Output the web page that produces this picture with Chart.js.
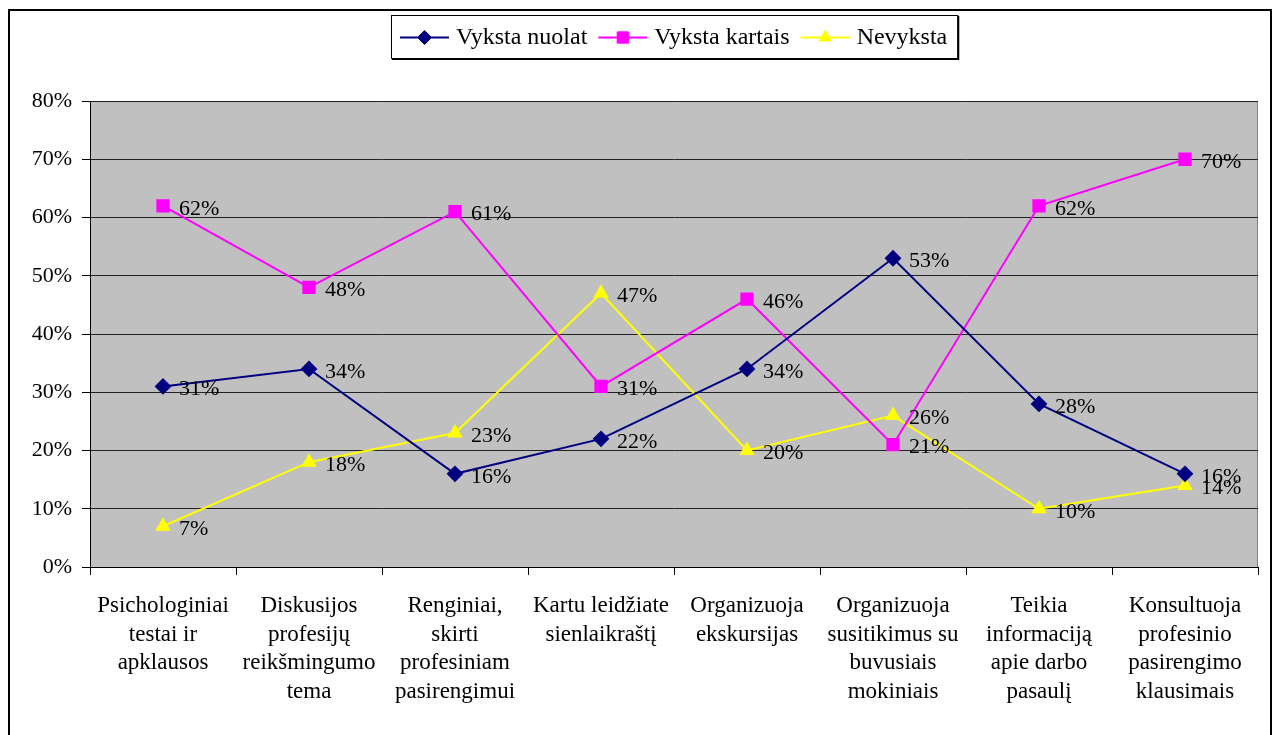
<!DOCTYPE html>
<html>
<head>
<meta charset="utf-8">
<script src="https://cdn.jsdelivr.net/npm/chart.js@4/dist/chart.umd.min.js"></script>
<style>
    html, body { margin: 0; padding: 0; background: #fff; overflow: hidden; }
    #wrap { position: relative; width: 1279px; height: 735px; }
    #frame { position: absolute; left: 8px; top: 9px; width: 1264px; height: 740px; border: 2px solid #000; box-sizing: border-box; }
    #chart { position: absolute; left: 0; top: 0; }
</style>
</head>
<body>
<div id="wrap">
    <div id="frame"></div>
    <canvas id="chart" width="1279" height="735"></canvas>
</div>
<script>
var categories = [
    ['Psichologiniai', 'testai ir', 'apklausos'],
    ['Diskusijos', 'profesijų', 'reikšmingumo', 'tema'],
    ['Renginiai,', 'skirti', 'profesiniam', 'pasirengimui'],
    ['Kartu leidžiate', 'sienlaikraštį'],
    ['Organizuoja', 'ekskursijas'],
    ['Organizuoja', 'susitikimus su', 'buvusiais', 'mokiniais'],
    ['Teikia', 'informaciją', 'apie darbo', 'pasaulį'],
    ['Konsultuoja', 'profesinio', 'pasirengimo', 'klausimais']
];
var vykstaNuolat = [31, 34, 16, 22, 34, 53, 28, 16];
var vykstaKartais = [62, 48, 61, 31, 46, 21, 62, 70];
var nevyksta = [7, 18, 23, 47, 20, 26, 10, 14];
var seriesNames = ['Vyksta nuolat', 'Vyksta kartais', 'Nevyksta'];

var serif = "'Liberation Serif', 'Times New Roman', serif";

// gray plot background + grey top/right border
var plotBackground = {
    id: 'plotBackground',
    beforeDraw: function (chart) {
        var a = chart.chartArea;
        var ctx = chart.ctx;
        ctx.save();
        ctx.fillStyle = '#C0C0C0';
        ctx.fillRect(a.left, a.top, a.right - a.left, a.bottom - a.top);
        ctx.strokeStyle = '#808080';
        ctx.lineWidth = 1;
        ctx.beginPath();
        ctx.moveTo(a.left, a.top + 0.5);
        ctx.lineTo(a.right - 0.5, a.top + 0.5);
        ctx.lineTo(a.right - 0.5, a.bottom);
        ctx.stroke();
        ctx.restore();
    }
};

// value labels to the right of each point
var valueLabels = {
    id: 'valueLabels',
    afterDatasetsDraw: function (chart) {
        var ctx = chart.ctx;
        ctx.save();
        ctx.font = '22px ' + serif;
        ctx.fillStyle = '#000';
        ctx.textAlign = 'left';
        ctx.textBaseline = 'middle';
        chart.data.datasets.forEach(function (ds, i) {
            chart.getDatasetMeta(i).data.forEach(function (pt, j) {
                ctx.fillText(ds.data[j] + '%', pt.x + 16, pt.y + 3);
            });
        });
        ctx.restore();
    }
};

// Excel style legend box: line with marker, then label
var boxLegend = {
    id: 'boxLegend',
    afterDraw: function (chart) {
        var ctx = chart.ctx;
        var a = chart.chartArea;
        ctx.save();
        ctx.font = '24px ' + serif;
        var lineLen = 49, gapAfterLine = 7, gapItems = 11, padL = 9, padR = 10;
        var widths = chart.data.datasets.map(function (ds) { return ctx.measureText(ds.label).width; });
        var total = padL + padR;
        widths.forEach(function (w, i) {
            total += lineLen + gapAfterLine + w + (i < widths.length - 1 ? gapItems : 0);
        });
        var cx = (a.left + a.right) / 2;
        var left = Math.round(cx - total / 2), top = 15, h = 43;
        ctx.fillStyle = '#000';
        ctx.fillRect(left + 1, top + 1, total + 1, h + 1);
        ctx.fillStyle = '#fff';
        ctx.fillRect(left, top, total, h);
        ctx.strokeStyle = '#000';
        ctx.lineWidth = 1;
        ctx.strokeRect(left + 0.5, top + 0.5, total, h);
        var x = left + padL, y = top + h / 2 + 1;
        chart.data.datasets.forEach(function (ds, i) {
            ctx.strokeStyle = ds.borderColor;
            ctx.lineWidth = 2;
            ctx.beginPath();
            ctx.moveTo(x, y);
            ctx.lineTo(x + lineLen, y);
            ctx.stroke();
            ctx.fillStyle = ds.pointBackgroundColor;
            ctx.strokeStyle = ds.pointBorderColor;
            ctx.lineWidth = 1;
            Chart.helpers.drawPoint(ctx, {
                pointStyle: ds.pointStyle, radius: ds.pointRadius, borderWidth: 1, rotation: 0
            }, x + lineLen / 2, y);
            ctx.fillStyle = '#000';
            ctx.textAlign = 'left';
            ctx.textBaseline = 'middle';
            ctx.fillText(ds.label, x + lineLen + gapAfterLine, y);
            x += lineLen + gapAfterLine + widths[i] + gapItems;
        });
        ctx.restore();
    }
};

var ctx = document.getElementById('chart').getContext('2d');
new Chart(ctx, {
    type: 'line',
    data: {
        labels: categories,
        datasets: [{
            label: seriesNames[0],
            data: vykstaNuolat,
            borderColor: '#000080',
            backgroundColor: '#000080',
            pointBackgroundColor: '#000080',
            pointBorderColor: '#000080',
            pointStyle: 'rectRot',
            pointRadius: 7,
            borderWidth: 2,
            tension: 0
        }, {
            label: seriesNames[1],
            data: vykstaKartais,
            borderColor: '#FF00FF',
            backgroundColor: '#FF00FF',
            pointBackgroundColor: '#FF00FF',
            pointBorderColor: '#FF00FF',
            pointStyle: 'rect',
            pointRadius: 8,
            borderWidth: 2,
            tension: 0
        }, {
            label: seriesNames[2],
            data: nevyksta,
            borderColor: '#FFFF00',
            backgroundColor: '#FFFF00',
            pointBackgroundColor: '#FFFF00',
            pointBorderColor: '#FFFF00',
            pointStyle: 'triangle',
            pointRadius: 7,
            borderWidth: 2,
            tension: 0
        }]
    },
    options: {
        responsive: false,
        animation: false,
        layout: { padding: { top: 101, right: 21, left: 0, bottom: 0 } },
        scales: {
            x: {
                offset: true,
                grid: {
                    offset: true,
                    drawOnChartArea: false,
                    color: '#000',
                    tickLength: 8,
                    tickColor: '#000'
                },
                border: { color: '#000', width: 1 },
                ticks: {
                    color: '#000',
                    autoSkip: false,
                    maxRotation: 0,
                    padding: 16,
                    font: { family: serif, size: 23, lineHeight: 1.26 }
                },
                afterFit: function (scale) { scale.height = 168; }
            },
            y: {
                min: 0,
                max: 80,
                grid: {
                    color: '#222',
                    tickLength: 8,
                    tickColor: '#000'
                },
                border: { color: '#000', width: 1 },
                ticks: {
                    stepSize: 10,
                    color: '#000',
                    padding: 10,
                    font: { family: serif, size: 22 },
                    callback: function (v) { return v + '%'; }
                },
                afterFit: function (scale) { scale.width = 90; }
            }
        },
        plugins: {
            legend: { display: false },
            tooltip: { enabled: false }
        }
    },
    plugins: [plotBackground, valueLabels, boxLegend]
});
</script>
</body>
</html>
